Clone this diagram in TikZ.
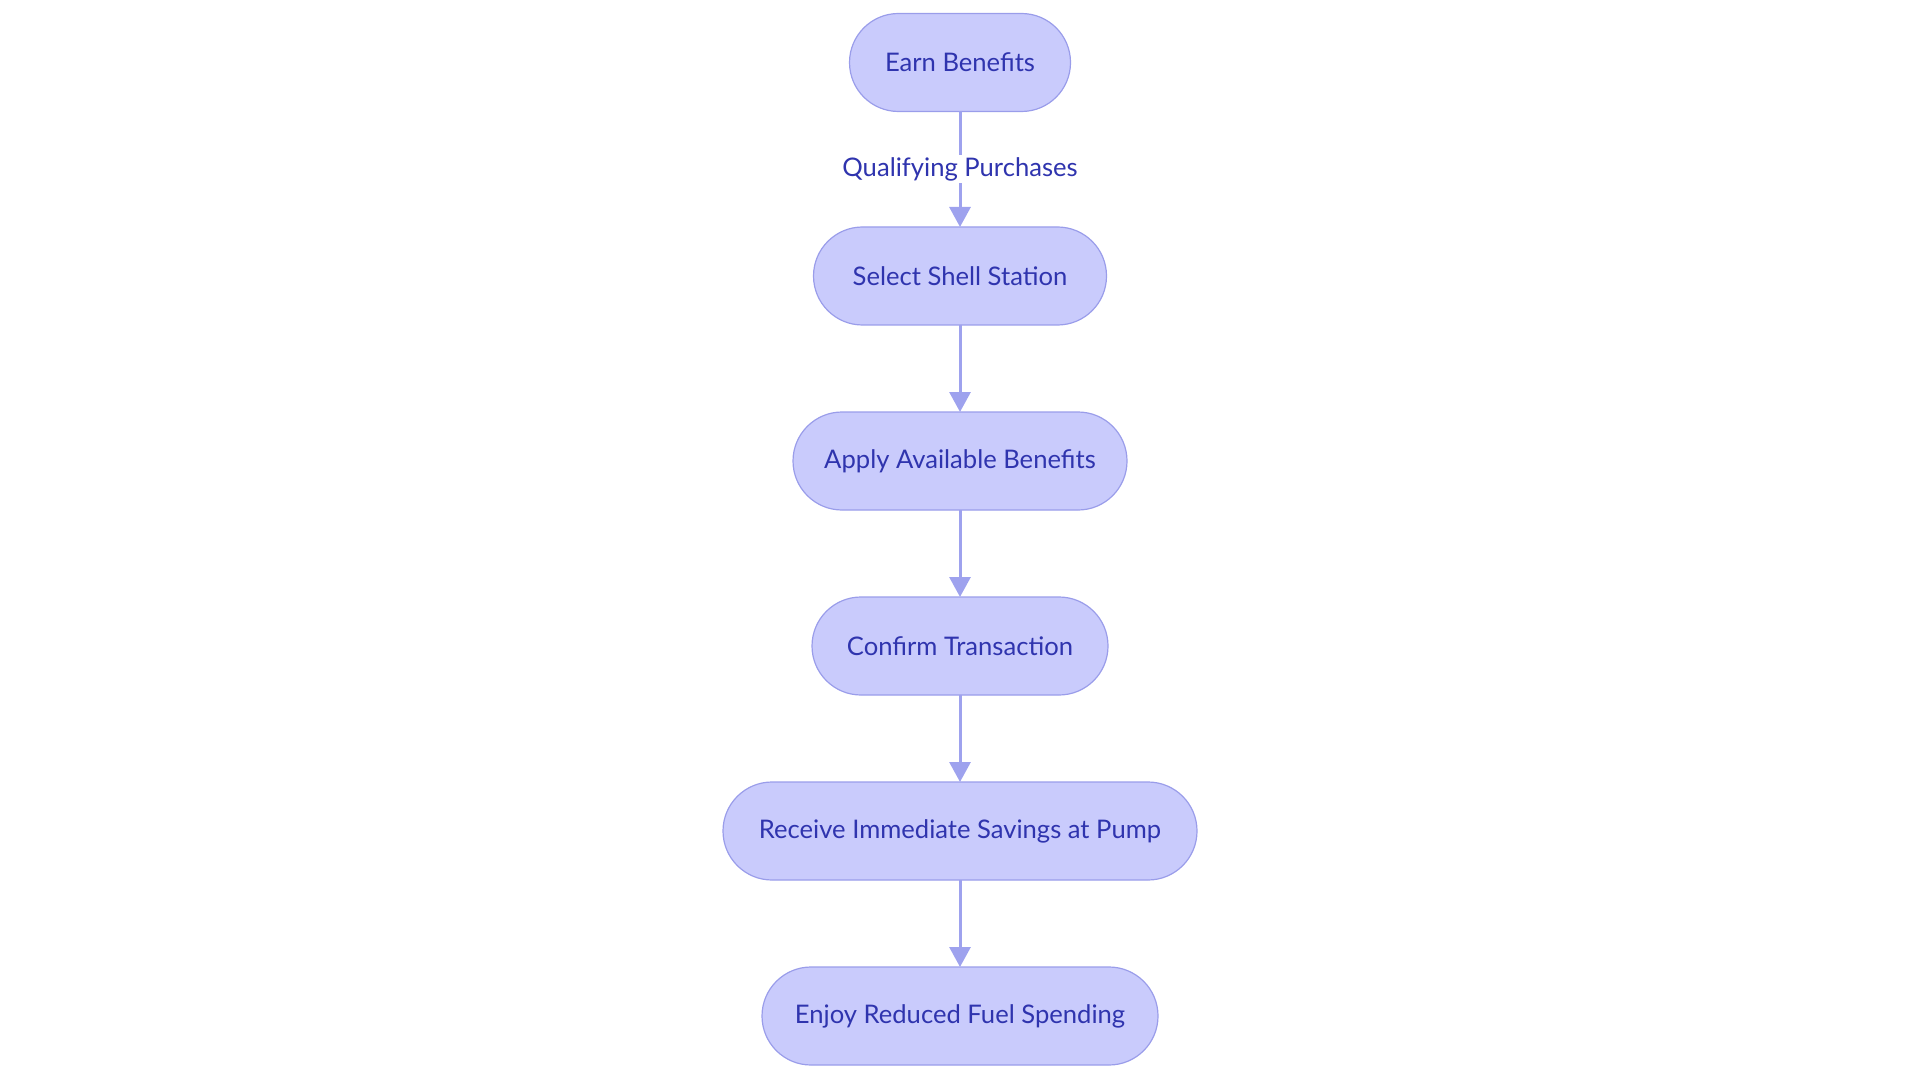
\documentclass[tikz,border=0pt]{standalone}
\usepackage{fontspec}
\setmainfont{Lato}
\usetikzlibrary{arrows.meta,positioning}

\definecolor{stagefill}{HTML}{C9CBFC}
\definecolor{stageline}{HTML}{9A9DEA}
\definecolor{stagetext}{HTML}{2F34AE}
\definecolor{flowline}{HTML}{9EA2EE}

\tikzset{
  stage/.style={draw=stageline, fill=stagefill, line width=0.6pt, rounded corners=24.5pt,
    text=stagetext, minimum height=49pt, inner xsep=10pt, outer sep=0pt,
    font=\fontsize{12.8}{15}\selectfont},
  flow/.style={draw=flowline, line width=1.5pt, -{Triangle[length=10pt,width=10.5pt]}},
  flowlabel/.style={fill=white, text=stagetext, inner sep=1pt, font=\fontsize{12.8}{15}\selectfont},
}

\begin{document}
\begin{tikzpicture}[node distance=43.5pt]
  \useasboundingbox (0,0) rectangle (960pt,-540pt);

  % the steps, top to bottom
  \node[stage, minimum width=110.5pt] (earn) at (480pt,-31.25pt) {Earn Benefits};
  \node[stage, minimum width=146.5pt, below=57.75pt of earn] (select) {Select Shell Station};
  \node[stage, minimum width=167pt, below=of select] (apply) {Apply Available Benefits};
  \node[stage, minimum width=148pt, below=of apply] (confirm) {Confirm Transaction};
  \node[stage, minimum width=237pt, below=of confirm] (receive) {Receive Immediate Savings at Pump};
  \node[stage, minimum width=198pt, below=of receive] (enjoy) {Enjoy Reduced Fuel Spending};

  % connectors
  \draw[flow] (earn) -- node[flowlabel] (qualify) {Qualifying Purchases} (select);
  \draw[flow] (select) -- (apply);
  \draw[flow] (apply) -- (confirm);
  \draw[flow] (confirm) -- (receive);
  \draw[flow] (receive) -- (enjoy);
\end{tikzpicture}
\end{document}
